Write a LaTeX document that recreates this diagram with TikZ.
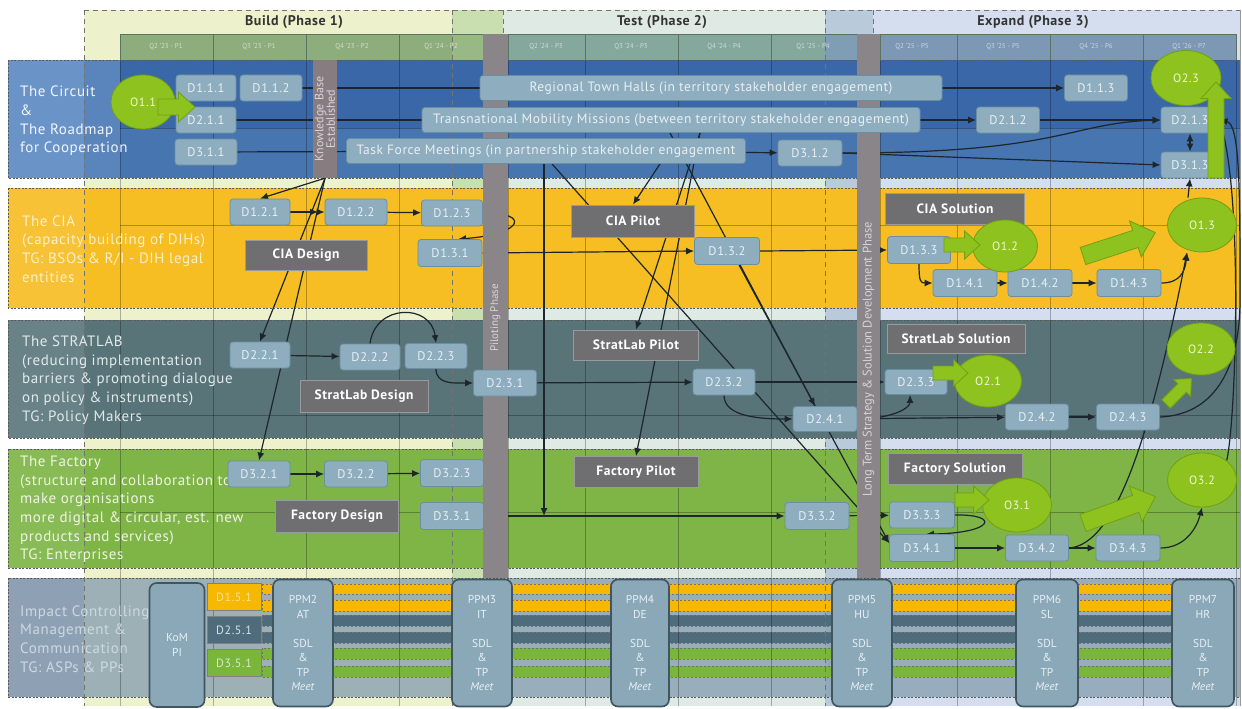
\documentclass[tikz,border=0pt]{standalone}
\usepackage{fontspec}
\setmainfont{PT Sans}
\newfontfamily\boxfont[LetterSpace=5]{PT Sans}
\newfontfamily\widefont[LetterSpace=4]{PT Sans}
\usetikzlibrary{shapes.geometric,arrows.meta,calc}
\pgfdeclarelayer{bg}
\pgfdeclarelayer{edges}
\pgfdeclarelayer{bars}
\pgfsetlayers{bg,edges,bars,main}

% phase tints
\definecolor{phB}{HTML}{EEF2CC}
\definecolor{phBT}{HTML}{CADFB0}
\definecolor{phT}{HTML}{E0EAE4}
\definecolor{phTE}{HTML}{B9CADA}
\definecolor{phE}{HTML}{D4DEEE}
% quarter header
\definecolor{hdB}{HTML}{8EAD7C}
\definecolor{hdBT}{HTML}{98B985}
\definecolor{hdT}{HTML}{84A99C}
\definecolor{hdTE}{HTML}{7F9EB6}
\definecolor{hdE}{HTML}{7D98B4}
\definecolor{hdline}{HTML}{5C7262}
% swimlanes
\definecolor{rAmain}{HTML}{3A67A7}
\definecolor{rAlow}{HTML}{4775B0}
\definecolor{rAleft}{HTML}{6A94C8}
\definecolor{rAmid}{HTML}{5A85BC}
\definecolor{rBmain}{HTML}{F6BE22}
\definecolor{rBleft}{HTML}{F7C235}
\definecolor{rCmain}{HTML}{587479}
\definecolor{rCleft}{HTML}{688288}
\definecolor{rDmain}{HTML}{7FB447}
\definecolor{rDleft}{HTML}{88BA55}
\definecolor{rEmain}{HTML}{8AA2B2}
\definecolor{rEleft}{HTML}{8EA1B4}
\definecolor{lblA}{HTML}{F2F5FA}
\definecolor{lblB}{HTML}{FCF0C8}
\definecolor{lblC}{HTML}{E2EAEB}
\definecolor{lblD}{HTML}{EEF6E2}
\definecolor{lblE}{HTML}{CDD9E2}
% boxes
\definecolor{dfill}{HTML}{8EADBF}
\definecolor{dline}{HTML}{6B8FA2}
\definecolor{dtext}{HTML}{E8F0F4}
\definecolor{gfill}{HTML}{6F6F72}
\definecolor{gline}{HTML}{9A9A9C}
\definecolor{barfill}{HTML}{8A8588}
\definecolor{kbfill}{HTML}{877D80}
\definecolor{bartxt}{HTML}{DAD4DA}
\definecolor{ofill}{HTML}{8EC21E}
\definecolor{oline}{HTML}{739F14}
\definecolor{otext}{HTML}{F3F8D2}
\definecolor{conncol}{HTML}{1C262C}
\definecolor{stOr}{HTML}{F6B800}
\definecolor{stSl}{HTML}{4E6C7C}
\definecolor{stGr}{HTML}{7BB63C}
\definecolor{ppmfill}{HTML}{8AA8B8}
\definecolor{ppmline}{HTML}{3F5560}

% block arrow: start point, angle, length, half shaft width, half head width
\newcommand\garrow[5]{%
  \begin{scope}[shift={#1},rotate=#2]
    \path[greenarr] (0,-#4) -- ({#3-1.1*#5},-#4) -- ({#3-1.1*#5},-#5) -- (#3,0)
      -- ({#3-1.1*#5},#5) -- ({#3-1.1*#5},#4) -- (0,#4) -- cycle;
  \end{scope}}

\begin{document}
\begin{tikzpicture}[x=1pt,y=-1pt,
  dbox/.style={draw=dline, line width=0.8pt, fill=dfill, rounded corners=3pt, text=dtext,
    font=\boxfont\fontsize{12.5}{13}\selectfont, minimum width=62, minimum height=26, inner sep=0pt},
  ebox/.style={dbox, font=\widefont\fontsize{13.5}{14}\selectfont, minimum height=25},
  gbox/.style={draw=gline, line width=0.8pt, fill=gfill, text=white,
    font=\widefont\bfseries\fontsize{13.5}{14}\selectfont, inner sep=0pt},
  oval/.style={ellipse, draw=oline, line width=0.8pt, fill=ofill, text=otext,
    font=\boxfont\fontsize{12}{12}\selectfont, inner sep=0pt},
  greenarr/.style={fill=ofill, draw=oline, line width=0.8pt},
  conn/.style={draw=conncol, line width=1.2pt, -{Latex[length=8pt,width=7pt]}},
  dconn/.style={draw=conncol, line width=1.2pt, {Latex[length=8pt,width=7pt]}-{Latex[length=8pt,width=7pt]}},
  link/.style={draw=conncol, line width=1.2pt},
  bar/.style={draw=none, inner sep=0pt},
  bartext/.style={text=bartxt, font=\fontsize{11}{12}\selectfont, align=center, inner sep=0pt},
  rowlabel/.style={anchor=west, align=left, font=\widefont\fontsize{15}{18.6}\selectfont, inner sep=0pt},
  phasetitle/.style={font=\widefont\bfseries\fontsize{14}{14}\selectfont, text=black!80, inner sep=0pt},
  qlabel/.style={font=\fontsize{7}{7}\selectfont, text=white, text opacity=0.6, inner sep=0pt},
  ppm/.style={draw=ppmline, line width=1.6pt, fill=ppmfill, rounded corners=7pt, text=dtext,
    font=\fontsize{11.5}{14.5}\selectfont, align=center, minimum width=60, minimum height=127, inner sep=0pt},
  sbox/.style={draw=black!50, line width=0.6pt, minimum width=54, minimum height=27,
    font=\boxfont\fontsize{12}{12}\selectfont, inner sep=0pt},
  stripe/.style={draw=black!55, dashed, dash pattern=on 2pt off 2pt, line width=0.6pt},
  rowborder/.style={draw=black!65, dash pattern=on 2pt off 1.5pt, line width=0.8pt},
  phdash/.style={draw=black!55, dash pattern=on 5pt off 4pt, line width=0.8pt},
  gridline/.style={draw=black, draw opacity=0.28, line width=0.7pt}
]
\useasboundingbox (0,0) rectangle (1242,709);

\begin{pgfonlayer}{bg}
  \fill[white] (0,0) rectangle (1242,709);
  % phase areas
  \fill[phB]  (84,10)  rectangle (452,706);
  \fill[phBT] (452,10) rectangle (503,706);
  \fill[phT]  (503,10) rectangle (825,706);
  \fill[phTE] (825,10) rectangle (873,706);
  \fill[phE]  (873,10) rectangle (1240,706);
  % quarter header
  \fill[hdB] (120,34) rectangle (483,60);
  \fill[hdBT] (452,34) rectangle (483,60);
  \fill[hdT] (508,34) rectangle (857,60);
  \fill[hdTE] (825,34) rectangle (857,60);
  \fill[hdE] (880,34) rectangle (1236,60);
  \foreach \a/\b in {120/213,213/306,306/399,399/483,508/585,585/678,678/771,771/857,880/957,957/1050,1050/1143,1143/1236}
    \draw[hdline, line width=0.8pt] (\a,34) rectangle (\b,60);
  % swimlanes
  \fill[rAmain] (84,60) rectangle (1240,128);
  \fill[rAlow] (84,128) rectangle (1240,178);
  \fill[rAmid] (84,60) rectangle (120,178);
  \fill[rAleft] (8,60) rectangle (84,178);
  \fill[rBmain] (84,188) rectangle (1240,308);
  \fill[rBleft] (8,188) rectangle (84,308);
  \fill[rCmain] (84,320) rectangle (1240,438);
  \fill[rCleft] (8,320) rectangle (84,438);
  \fill[rDmain] (84,449) rectangle (1240,568);
  \fill[rDleft] (8,449) rectangle (84,568);
  \fill[rEmain, opacity=0.82] (84,578) rectangle (1240,697);
  \fill[rEleft] (8,578) rectangle (84,697);
  % row 5 work-package stripes
  \filldraw[stripe, fill=stOr] (262,584) rectangle (1175,594);
  \filldraw[stripe, fill=stOr] (262,600) rectangle (1175,611);
  \filldraw[stripe, fill=stSl] (262,615) rectangle (1175,626);
  \filldraw[stripe, fill=stSl] (262,632) rectangle (1175,643);
  \filldraw[stripe, fill=stGr] (262,648) rectangle (1175,659);
  \filldraw[stripe, fill=stGr] (262,666) rectangle (1175,677);
  % quarter grid
  \foreach \x in {120,213,306,399,483,508,585,678,771,857,880,957,1050,1143,1236}
    \draw[gridline] (\x,60) -- (\x,706);
  \draw[gridline] (120,128) -- (1240,128);
  \draw[gridline] (120,225) -- (1240,225);
  \draw[gridline] (120,415) -- (1240,415);
  \draw[gridline] (120,512) -- (1240,512);
  % lane borders
  \draw[rowborder] (8,60) rectangle (1240,178);
  \draw[rowborder] (8,188) rectangle (1240,308);
  \draw[rowborder] (8,320) rectangle (1240,438);
  \draw[rowborder] (8,449) rectangle (1240,568);
  \draw[rowborder] (8,578) rectangle (1240,697);
  % phase borders
  \draw[phdash] (84,10) -- (1240,10);
  \foreach \x in {84,452,503,825,873}
    \draw[phdash] (\x,10) -- (\x,706);
  \draw[black!40, line width=0.8pt] (1240,10) -- (1240,706);
\end{pgfonlayer}

% phase titles and quarters
\node[phasetitle] (ph1) at (294,22) {Build (Phase 1)};
\node[phasetitle] (ph2) at (662,22) {Test (Phase 2)};
\node[phasetitle] (ph3) at (1033,22) {Expand (Phase 3)};
\node[qlabel] (q1) at (166,47) {Q2 '23 - P1};
\node[qlabel] (q2) at (259,47) {Q3 '23 - P1};
\node[qlabel] (q3) at (352,47) {Q4 '23 - P2};
\node[qlabel] (q4) at (441,47) {Q1 '24 - P2};
\node[qlabel] (q5) at (546,47) {Q2 '24 - P3};
\node[qlabel] (q6) at (631,47) {Q3 '24 - P3};
\node[qlabel] (q7) at (724,47) {Q4 '24 - P4};
\node[qlabel] (q8) at (813,47) {Q1 '25 - P4};
\node[qlabel] (q9) at (912,47) {Q2 '25 - P5};
\node[qlabel] (q10) at (1003,47) {Q3 '25 - P5};
\node[qlabel] (q11) at (1096,47) {Q4 '25 - P6};
\node[qlabel] (q12) at (1189,47) {Q1 '26 - P7};

% phase milestone bars
\begin{pgfonlayer}{bars}
  \node[bar, fill=kbfill, minimum width=24, minimum height=118] (kb) at (325,119) {};
  \node[bar, fill=barfill, minimum width=25, minimum height=544] (pilot) at (495.5,306) {};
  \node[bar, fill=barfill, minimum width=23, minimum height=544] (ltbar) at (868.5,306) {};
  \node[bartext, rotate=90, font=\fontsize{12}{11.5}\selectfont] (kbtxt) at (kb) {Knowledge Base\\Established};
  \node[bartext, rotate=90] (pilottxt) at (495.5,318) {Piloting Phase};
  \node[bartext, rotate=90, font=\fontsize{12.5}{13}\selectfont] (lttxt) at (868.5,359) {Long Term Strategy \& Solution Development Phase};
\end{pgfonlayer}

% lane titles
\node[rowlabel, text=lblA] (lab1) at (20,121) {The Circuit\\\&\\The Roadmap\\for Cooperation};
\node[rowlabel, text=lblB] (lab2) at (22,249) {The CIA\\(capacity building of DIHs)\\TG: BSOs \& R/I - DIH legal\\entities};
\node[rowlabel, text=lblC] (lab3) at (22,380) {The STRATLAB\\(reducing implementation\\barriers \& promoting dialogue\\on policy \& instruments)\\TG: Policy Makers};
\node[rowlabel, text=lblD] (lab4) at (20,509.5) {The Factory\\(structure and collaboration to\\make organisations\\more digital \& circular, est. new\\products and services)\\TG: Enterprises};
\node[rowlabel, text=lblE] (lab5) at (20,639) {Impact Controlling\\Management \&\\Communication\\TG: ASPs \& PPs};

% lane 1: the circuit
\node[dbox, minimum width=60] (d111) at (206,88) {D1.1.1};
\node[dbox] (d112) at (271,88) {D1.1.2};
\node[dbox, minimum width=60] (d211) at (206,120) {D2.1.1};
\node[dbox] (d311) at (206,152) {D3.1.1};
\node[ebox, minimum width=462] (rth) at (711,88) {Regional Town Halls (in territory stakeholder engagement)};
\node[ebox, minimum width=498] (tmm) at (671,120) {Transnational Mobility Missions (between territory stakeholder engagement)};
\node[ebox, minimum width=399] (tfm) at (546,151) {Task Force Meetings (in partnership stakeholder engagement};
\node[dbox, minimum width=64] (d312) at (810,153) {D3.1.2};
\node[dbox, minimum width=63] (d113) at (1096,88) {D1.1.3};
\node[dbox, minimum width=63] (d212) at (1008,120) {D2.1.2};
\node[dbox, minimum width=58] (d213) at (1190,120) {D2.1.3};
\node[dbox, minimum width=58] (d313) at (1190,165) {D3.1.3};
\node[oval, minimum width=64, minimum height=54] (o11) at (143,102) {O1.1};
\node[oval, minimum width=70, minimum height=55] (o23) at (1186,78) {O2.3};
\garrow{(158,107)}{0}{37}{8}{15}
\garrow{(1216,178)}{90}{96}{8}{15}

% lane 2: CIA
\node[dbox, minimum width=60] (d121) at (260,212) {D1.2.1};
\node[dbox] (d122) at (356,212) {D1.2.2};
\node[dbox, minimum width=61] (d123) at (452,213) {D1.2.3};
\node[dbox, minimum width=64, minimum height=27] (d131) at (450,253) {D1.3.1};
\node[gbox, minimum width=122, minimum height=30] (ciad) at (306,255) {CIA Design};
\node[gbox, minimum width=123, minimum height=32] (ciap) at (633,221) {CIA Pilot};
\node[dbox, minimum width=65, minimum height=27] (d132) at (727,251) {D1.3.2};
\node[gbox, minimum width=139, minimum height=31] (cias) at (955,209) {CIA Solution};
\node[dbox, minimum width=63, minimum height=27] (d133) at (919,250) {D1.3.3};
\node[dbox, minimum width=64, minimum height=27] (d141) at (965,283) {D1.4.1};
\node[dbox, minimum width=64, minimum height=27] (d142) at (1040,283) {D1.4.2};
\node[dbox, minimum width=64, minimum height=27] (d143) at (1129,283) {D1.4.3};
\node[oval, minimum width=65, minimum height=52] (o12) at (1005,246) {O1.2};
\node[oval, minimum width=69, minimum height=54] (o13) at (1202,225) {O1.3};
\garrow{(944,245)}{0}{36}{7}{14}
\garrow{(1083,256)}{18}{76}{9}{19}

% lane 3: StratLab
\node[dbox, minimum width=60] (d221) at (260,355) {D2.2.1};
\node[dbox, minimum width=60] (d222) at (370,357) {D2.2.2};
\node[dbox, minimum width=62, minimum height=25] (d223) at (436,356) {D2.2.3};
\node[gbox, minimum width=128, minimum height=32] (sld) at (364,396) {StratLab Design};
\node[dbox, minimum width=63] (d231) at (505,383) {D2.3.1};
\node[gbox, minimum width=125, minimum height=30] (slp) at (636,345) {StratLab Pilot};
\node[dbox, minimum width=62] (d232) at (724,382) {D2.3.2};
\node[dbox, minimum width=64, minimum height=25] (d241) at (825,419) {D2.4.1};
\node[gbox, minimum width=138, minimum height=29] (sls) at (956,339) {StratLab Solution};
\node[dbox, minimum width=62, minimum height=25] (d233) at (916,382) {D2.3.3};
\node[dbox, minimum width=63] (d242) at (1037,417) {D2.4.2};
\node[dbox, minimum width=63] (d243) at (1128,417) {D2.4.3};
\node[oval, minimum width=67, minimum height=52] (o21) at (988,381) {O2.1};
\node[oval, minimum width=68, minimum height=52] (o22) at (1201,349) {O2.2};
\garrow{(933,373)}{0}{35}{7}{13}
\garrow{(1166,404)}{45}{36}{6}{12}

% lane 4: Factory
\node[dbox] (d321) at (259,474) {D3.2.1};
\node[dbox, minimum width=63] (d322) at (356,474) {D3.2.2};
\node[dbox, minimum width=63, minimum height=27] (d323) at (452,473) {D3.2.3};
\node[gbox, minimum width=123, minimum height=32] (fd) at (337,516) {Factory Design};
\node[dbox, minimum width=63, minimum height=27] (d331) at (452,516) {D3.3.1};
\node[gbox, minimum width=124, minimum height=31] (fp) at (636,472) {Factory Pilot};
\node[dbox, minimum width=64, minimum height=27] (d332) at (817,516) {D3.3.2};
\node[gbox, minimum width=134, minimum height=31] (fs) at (955,469) {Factory Solution};
\node[dbox, minimum width=65] (d333) at (922,515) {D3.3.3};
\node[dbox, minimum width=65, minimum height=27] (d341) at (922,548) {D3.4.1};
\node[dbox, minimum width=63] (d342) at (1037,548) {D3.4.2};
\node[dbox, minimum width=64] (d343) at (1128,548) {D3.4.3};
\node[oval, minimum width=69, minimum height=54] (o31) at (1017,505) {O3.1};
\node[oval, minimum width=69, minimum height=54] (o32) at (1202,480) {O3.2};
\garrow{(955,500)}{0}{34}{7}{14}
\garrow{(1083,523)}{20}{77}{9}{19}
\coordinate (m331) at ($(d331.east)!0.2!(d332.west)$);
\coordinate (x121) at (318,212);

% lane 5: impact controlling
\node[ppm, minimum width=55, minimum height=124] (kom) at (177,645) {KoM\\PI};
\node[sbox, fill=stOr, text=stOr!40] (d151) at (234,597) {D1.5.1};
\node[sbox, fill=stSl, text=dtext!90!stSl] (d251) at (234,630) {D2.5.1};
\node[sbox, fill=stGr, text=stGr!30] (d351) at (234,663) {D3.5.1};
\node[ppm] (ppm2) at (303,643) {PPM2\\AT\\[14.5pt]SDL\\\&\\TP\\\textit{Meet}};
\node[ppm] (ppm3) at (482,643) {PPM3\\IT\\[14.5pt]SDL\\\&\\TP\\\textit{Meet}};
\node[ppm, minimum width=58] (ppm4) at (640,643) {PPM4\\DE\\[14.5pt]SDL\\\&\\TP\\\textit{Meet}};
\node[ppm] (ppm5) at (862,643) {PPM5\\HU\\[14.5pt]SDL\\\&\\TP\\\textit{Meet}};
\node[ppm, minimum width=62] (ppm6) at (1047,643) {PPM6\\SL\\[14.5pt]SDL\\\&\\TP\\\textit{Meet}};
\node[ppm, minimum width=62] (ppm7) at (1203,643) {PPM7\\HR\\[14.5pt]SDL\\\&\\TP\\\textit{Meet}};

% connectors
\begin{pgfonlayer}{edges}
  % lane 1
  \draw[link] (d112) -- (rth);
  \draw[conn] (rth) -- (d113);
  \draw[link] (d211) -- (tmm);
  \draw[conn] (tmm) -- (d212);
  \draw[conn] (d212) -- (d213);
  \draw[link] (d311) -- (tfm);
  \draw[conn] (tfm) -- (d312);
  \draw[conn] (d312.east) -- (d313.west);
  \draw[conn] (d312.east) .. controls (1062,153) and (1068,123) .. (d213.west);
  \draw[dconn] (d213.south) -- (d313.north);
  \draw[conn] ([xshift=-14pt]o13.north) -- (d313.south);
  % knowledge base into the design phase
  \draw[conn] (kb.south) -- (d121.north);
  \draw[conn] (kb.south) -- (d221.north);
  \draw[conn] (kb.south) -- (d321.north);
  % engagement formats into pilots
  \draw[conn] (tfm.south -| m331) -- (m331);
  \draw[conn] ([xshift=6pt]tfm.south) -- ([yshift=5pt]d341.west);
  \draw[conn] ([xshift=114pt]tfm.south) -- (ciap.north);
  \draw[conn] ([xshift=-1pt]tmm.south) -- ([xshift=-10pt]d241.north);
  \draw[conn] ([xshift=29pt]tmm.south) -- (slp.north);
  \draw[conn] ([xshift=29pt]tmm.south) -- (fp.north);
  \draw[conn] ([xshift=12pt]d132.south) -- ([yshift=5pt]d341.west);
  % lane 2
  \draw[conn] (d121) -- (x121);
  \draw[conn] (x121) -- (d122);
  \draw[conn] (d122) -- (d123);
  \draw[conn] (d123.east) .. controls (530,212) and (525,234) .. ([xshift=8pt]d131.north);
  \draw[conn] (d131.east) -- (d132.west);
  \draw[conn] (d132.east) -- (d133.west);
  \draw[conn] (d133.south) .. controls +(0,18) and +(-12,0) .. (d141.west);
  \draw[conn] (d141) -- (d142);
  \draw[conn] (d142) -- (d143);
  \draw[conn] (d143.east) .. controls +(18,0) and +(-2,20) .. ([xshift=-15pt]o13.south);
  % lane 3
  \draw[conn] (d221) -- (d222);
  \draw[conn] (d222.north) .. controls +(5,-40) and +(-5,-40) .. (d223.north);
  \draw[conn] (d223.south) .. controls +(0,16) and +(-18,0) .. (d231.west);
  \draw[conn] (d231) -- (d232);
  \draw[conn] (d232) -- (d233);
  \draw[conn] (d232.south) .. controls +(0,22) and +(-30,0) .. (d241.west);
  \draw[conn] (d241.east) .. controls +(32,0) and +(0,14) .. ([xshift=-6pt]d233.south);
  \draw[conn] (d241) -- (d242);
  \draw[conn] (d242) -- (d243);
  \draw[conn] (d243.east) .. controls (1212,415) and (1240,372) .. (1240,300)
    .. controls (1240,190) and (1240,124) .. (d213.east);
  \draw[conn] (o32.north east) .. controls (1236,420) and (1243,200) .. (d213.east);
  % lane 4
  \draw[conn] (d321) -- (d322);
  \draw[conn] (d322) -- (d323);
  \draw[conn] (d331) -- (d332);
  \draw[conn] (d332) -- (d333);
  \draw[conn] (d333.east) .. controls (1000,514) and (995,533) .. ([xshift=4pt]d341.north);
  \draw[conn] (d341) -- (d342);
  \draw[conn] (d342) -- (d343);
  \draw[conn] (d343.east) .. controls +(25,0) and +(-5,20) .. (o32.south);
  \draw[conn] (d342.east) .. controls (1115,545) and (1150,440) .. ([xshift=-15pt]o13.south);
\end{pgfonlayer}
\end{tikzpicture}
\end{document}
